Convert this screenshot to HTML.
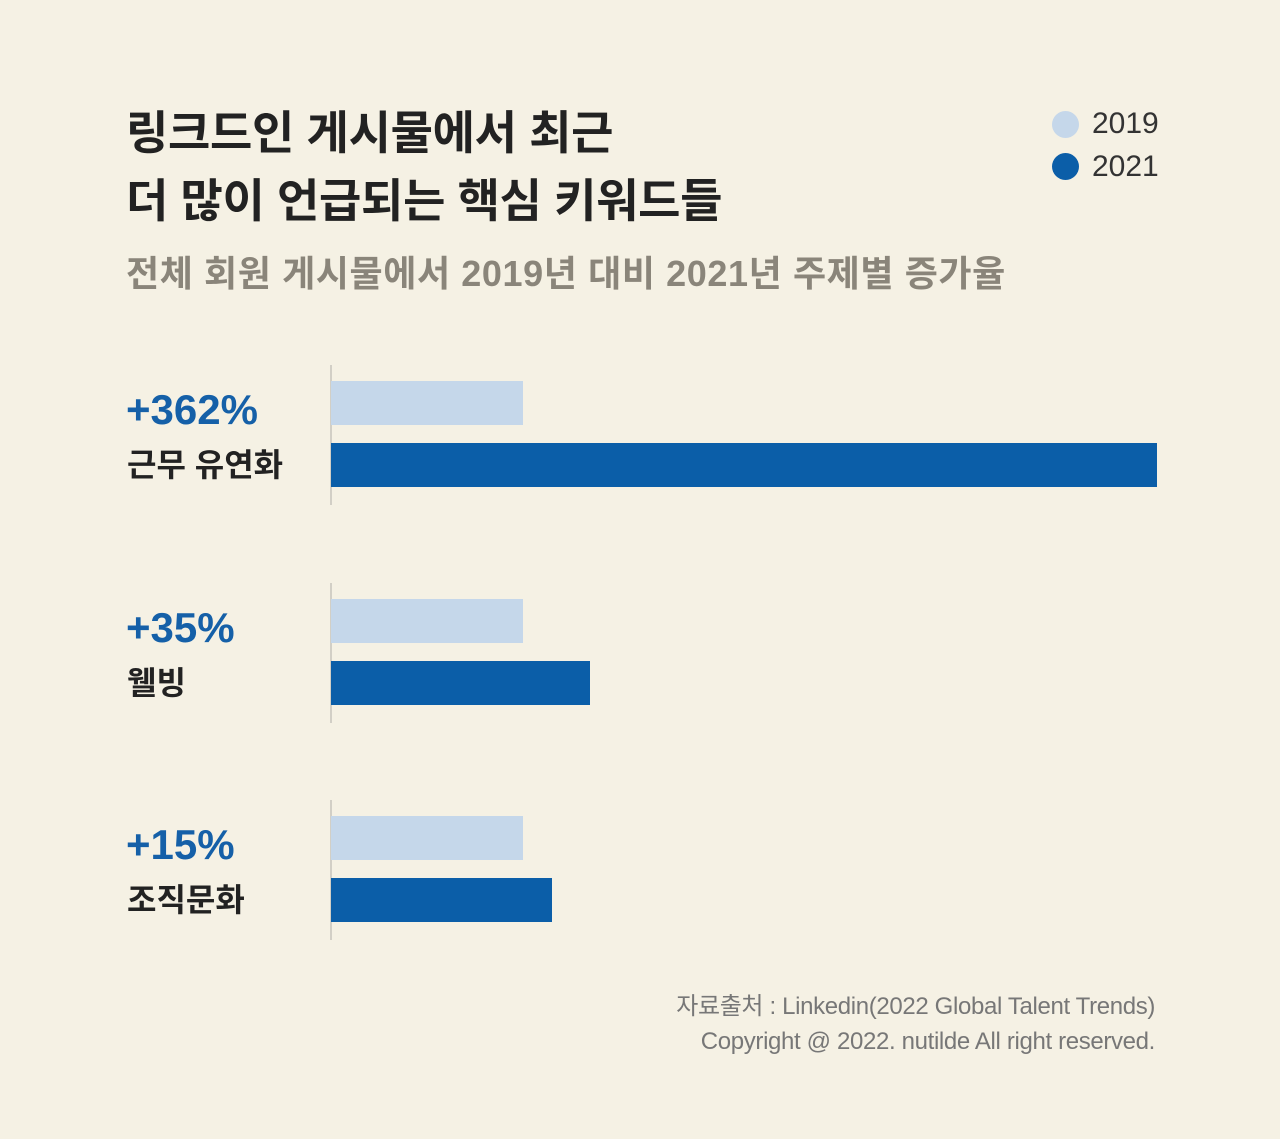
<!DOCTYPE html>
<html><head><meta charset="utf-8">
<style>
body{margin:0;width:1280px;height:1139px;background:#f5f1e4;font-family:"Liberation Sans","Noto Sans CJK KR",sans-serif;position:relative;overflow:hidden}
.t{position:absolute;white-space:nowrap}
</style></head>
<body>
<div class="t" style="left:126px;top:97px;font-size:46px;font-weight:700;color:#222;letter-spacing:-0.3px">링크드인 게시물에서 최근</div>
<div class="t" style="left:126px;top:165px;font-size:46px;font-weight:700;color:#222;letter-spacing:-0.3px">더 많이 언급되는 핵심 키워드들</div>
<div class="t" style="left:126px;top:245px;font-size:36px;font-weight:700;color:#8a857a;letter-spacing:0.6px">전체 회원 게시물에서 2019년 대비 2021년 주제별 증가율</div>
<div>
<div style="position:absolute;left:1052px;top:111px;width:27px;height:27px;border-radius:50%;background:#c5d7ea"></div>
<div class="t" style="left:1092px;top:107px;font-size:30px;color:#333">2019</div></div>
<div>
<div style="position:absolute;left:1052px;top:153px;width:27px;height:27px;border-radius:50%;background:#0b5ea8"></div>
<div class="t" style="left:1092px;top:150px;font-size:30px;color:#333">2021</div></div>
<div id="chart"></div>
<div class="t" style="right:125px;top:986px;font-size:24px;color:#777;letter-spacing:-0.35px">자료출처 : Linkedin(2022 Global Talent Trends)</div>
<div class="t" style="right:125px;top:1028px;font-size:24px;color:#777;letter-spacing:-0.35px">Copyright @ 2022. nutilde All right reserved.</div>
<script>
const categories=["근무 유연화","웰빙","조직문화"];
const growthLabels=["+362%","+35%","+15%"];
const values2019=[100,100,100];
const values2021=[430,135,115];
const chart=document.getElementById('chart');
const x0=331, pxPerUnit=1.92, groupTop=381, groupStep=217.5;
function xs(v){return v*pxPerUnit;}
function add(style,name,html){const d=document.createElement('div');d.style.cssText=style;


if(html)d.textContent=html;chart.appendChild(d);return d;}
categories.forEach((c,i)=>{
 const y=groupTop+i*groupStep;
 add(`position:absolute;left:${x0-1}px;top:${y-16}px;width:2px;height:140px;background:#d2cfc6`,'axis-line');
 add(`position:absolute;left:${x0}px;top:${y}px;width:${xs(values2019[i])}px;height:44px;background:#c5d7ea`,'bar-2019');
 add(`position:absolute;left:${x0}px;top:${y+62}px;width:${xs(values2021[i])}px;height:44px;background:#0b5ea8`,'bar-2021');
 add(`position:absolute;left:126px;top:${y+5}px;font-size:42px;font-weight:700;color:#1560a8;white-space:nowrap`,'growth-label',growthLabels[i]);
 add(`position:absolute;left:127px;top:${y+59}px;font-size:32px;font-weight:700;color:#222;white-space:nowrap`,'category-label',c);
});
</script>
</body></html>
